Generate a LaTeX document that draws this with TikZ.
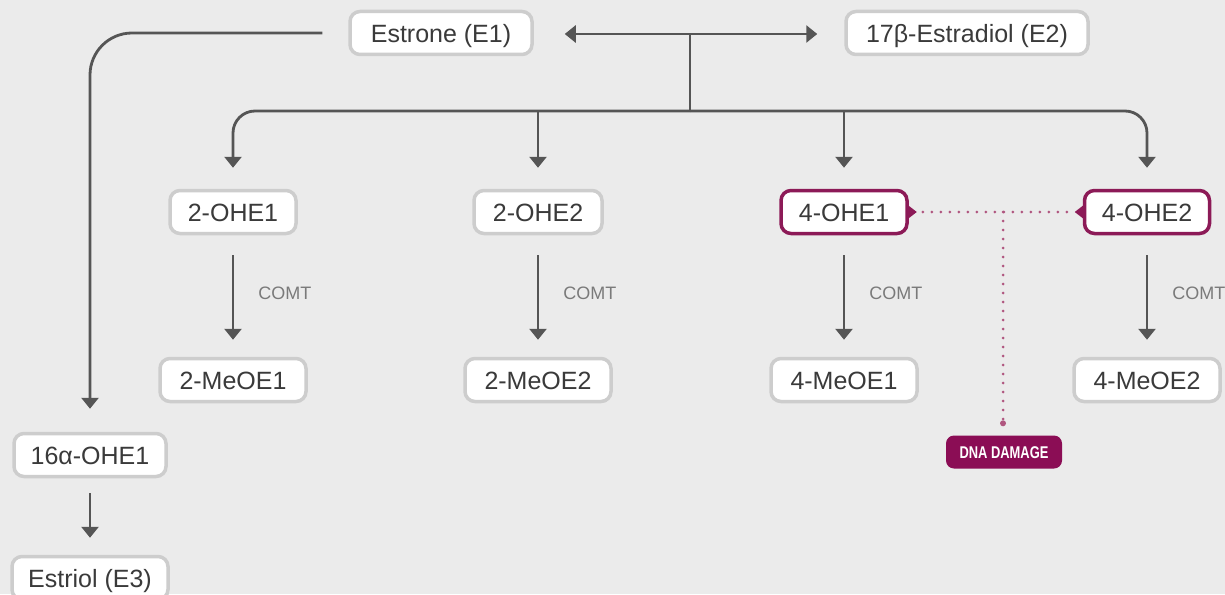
\documentclass[tikz,border=0pt]{standalone}
\usepackage{fontspec}
\usepackage{graphicx}
\setmainfont{Liberation Sans}
\usetikzlibrary{arrows.meta}
\definecolor{bg}{HTML}{EBEBEB}
\definecolor{boxgray}{HTML}{CDCDCD}
\definecolor{linegray}{HTML}{555555}
\definecolor{txt}{HTML}{3A3A3A}
\definecolor{comtgray}{HTML}{7A7A7A}
\definecolor{mag}{HTML}{8C1A57}
\definecolor{magdot}{HTML}{B0567F}
\definecolor{magfill}{HTML}{8B0D55}
\tikzset{
  box/.style={draw=boxgray, line width=3.5pt, rounded corners=10pt, fill=white,
    minimum height=43pt, inner sep=0pt, text=txt, text height=18pt, text depth=0pt,
    font=\fontsize{25}{29}\selectfont},
  hotbox/.style={box, draw=mag},
  conn/.style={draw=linegray, line width=2.8pt, -{Triangle[width=17pt,length=11pt]}},
  conn2/.style={draw=linegray, line width=2.8pt, {Triangle[width=17pt,length=11pt]}-{Triangle[width=17pt,length=11pt]}},
  plain/.style={draw=linegray, line width=2.8pt},
  comt/.style={text=comtgray, font=\fontsize{18}{20}\selectfont, inner sep=0pt, anchor=west,
    text height=13pt, text depth=0pt},
  dotline/.style={draw=magdot, line width=3pt, line cap=round, dash pattern=on 0pt off 9pt},
  dmg/.style={fill=magfill, rounded corners=8pt, minimum width=116pt, minimum height=33pt,
    inner sep=0pt, text=white, text height=12.5pt, text depth=0pt, font=\fontsize{17}{19}\selectfont\bfseries}
}
\begin{document}
\begin{tikzpicture}[x=1pt,y=-1pt]
\fill[bg] (0,0) rectangle (1225,594);
\useasboundingbox (0,0) rectangle (1225,594);

\node[box, minimum width=182pt] (e1) at (441,33) {Estrone (E1)};
\node[box, minimum width=242pt] (e2) at (967,33) {17β-Estradiol (E2)};

\node[box, minimum width=126pt] (o21) at (233,212) {2-OHE1};
\node[box, minimum width=128pt] (o22) at (538,212) {2-OHE2};
\node[hotbox, minimum width=126pt] (o41) at (844,212) {4-OHE1};
\node[hotbox, minimum width=125pt] (o42) at (1147,212) {4-OHE2};

\node[box, minimum width=146pt] (m21) at (233,380) {2-MeOE1};
\node[box, minimum width=146pt] (m22) at (538,380) {2-MeOE2};
\node[box, minimum width=146pt] (m41) at (844,380) {4-MeOE1};
\node[box, minimum width=146pt] (m42) at (1147,380) {4-MeOE2};

\node[box, minimum width=152pt] (o16) at (90,455) {16α-OHE1};
\node[box, minimum width=156pt] (e3) at (90,578) {Estriol (E3)};

\node[dmg] (dna) at (1004,452) {\scalebox{0.76}[1]{DNA DAMAGE}};

% triangles on magenta boxes
\fill[mag] ([xshift=-1pt]o41.east) ++(0,-7) -- ++(9,7) -- ++(-9,7) -- cycle;
\fill[mag] ([xshift=1pt]o42.west) ++(0,-7) -- ++(-9,7) -- ++(9,7) -- cycle;

% top connectors
\coordinate (top) at (690,34);
\coordinate (bus) at (690,111);
\draw[conn2] ([xshift=31pt,yshift=-1pt]e1.east) -- ([xshift=-27pt,yshift=-1pt]e2.west);
\draw[plain] (top) -- (bus);
\draw[conn, rounded corners=22pt] (bus) -| ([yshift=21pt]o21.north);
\draw[conn, rounded corners=22pt] (bus) -| ([yshift=21pt]o42.north);
\draw[conn] (o22.north |- bus) -- ([yshift=21pt]o22.north);
\draw[conn] (o41.north |- bus) -- ([yshift=21pt]o41.north);

% left branch
\draw[conn, rounded corners=42pt] ([xshift=-26pt]e1.west) -| ([yshift=23pt]o16.north);
\draw[conn] ([yshift=-15pt]o16.south) -- ([yshift=17pt]e3.north);

% COMT arrows
\foreach \a/\b in {o21/m21, o22/m22, o41/m41, o42/m42}{
  \draw[conn] ([yshift=-20pt]\a.south) -- node[comt, xshift=24pt, yshift=5pt] {COMT} ([yshift=17pt]\b.north);
}

% DNA damage dotted links
\coordinate (dj) at (1003,212);
\draw[dotline] ([xshift=14pt]o41.east) -- ([xshift=-13pt]o42.west);
\draw[dotline] (dj) -- ([yshift=12pt]dna.north -| dj);
\fill[magdot] ([yshift=12pt]dna.north -| dj) circle (3pt);
\end{tikzpicture}
\end{document}
